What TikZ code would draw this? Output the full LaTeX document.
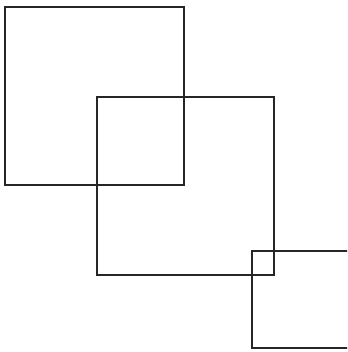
\documentclass[tikz,border=0pt]{standalone}
\begin{document}
\begin{tikzpicture}[x=1pt,y=-1pt,
  sq/.style={draw=black!85, line width=2pt, line join=miter}]
\useasboundingbox (0,0) rectangle (347,352);
\fill[white] (0,0) rectangle (347,352);
\clip (0,0) rectangle (347,352);
\draw[sq] (5,7) rectangle (184,185);
\draw[sq] (97,97) rectangle (274,275);
\draw[sq] (252,251) rectangle (370,348);
\end{tikzpicture}
\end{document}
